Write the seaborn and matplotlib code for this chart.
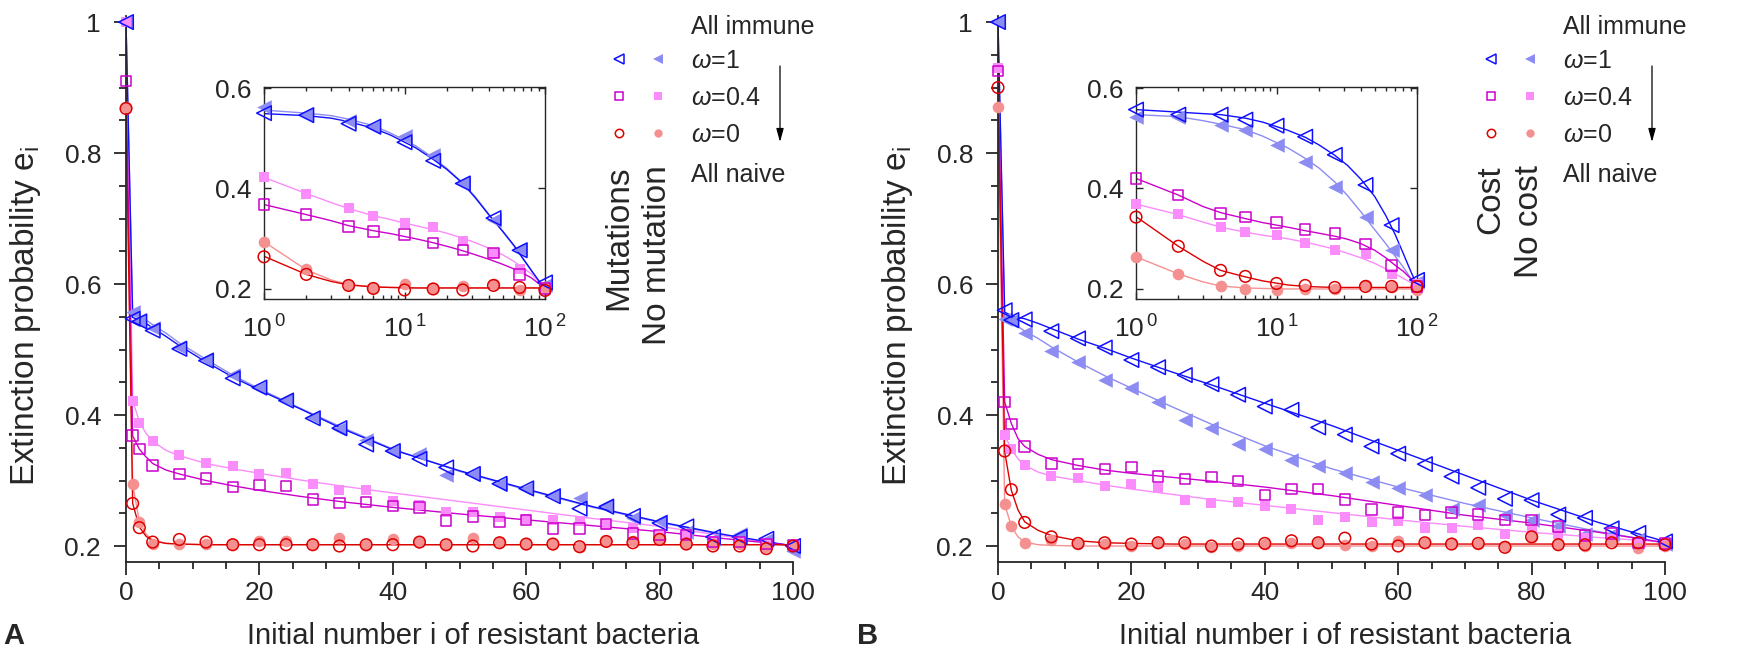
import matplotlib
matplotlib.use("Agg")
import matplotlib.pyplot as plt
import seaborn as sns
from matplotlib.lines import Line2D
from matplotlib.legend_handler import HandlerTuple
from matplotlib.ticker import MultipleLocator, LogLocator, NullFormatter

# ---- data ----
# simulation points, main panels (linear x)
x_main = [0, 1, 2, 4, 8, 12, 16, 20, 24, 28, 32, 36, 40, 44, 48, 52, 56, 60,
          64, 68, 72, 76, 80, 84, 88, 92, 96, 100]

a_open_w1 = [1.0, 0.547, 0.543, 0.529, 0.501, 0.483, 0.456, 0.442, 0.422, 0.395, 0.380, 0.355, 0.345, 0.333,
             0.320, 0.310, 0.295, 0.288, 0.276, 0.257, 0.260, 0.246, 0.235, 0.230, 0.214, 0.214, 0.211, 0.200]
a_fill_w1 = [1.0, 0.557, 0.544, 0.533, 0.504, 0.485, 0.461, 0.442, 0.424, 0.397, 0.378, 0.362, 0.345, 0.340,
             0.308, 0.310, 0.295, 0.287, 0.278, 0.273, 0.262, 0.243, 0.238, 0.222, 0.211, 0.219, 0.209, 0.193]
a_open_w04 = [0.91, 0.369, 0.348, 0.323, 0.310, 0.303, 0.290, 0.293, 0.292, 0.271, 0.266, 0.267, 0.261, 0.259,
              0.239, 0.245, 0.237, 0.240, 0.227, 0.227, 0.234, 0.219, 0.217, 0.217, 0.206, 0.206, 0.203, 0.202]
a_fill_w04 = [1.0, 0.422, 0.388, 0.360, 0.339, 0.327, 0.322, 0.310, 0.311, 0.294, 0.285, 0.285, 0.269, 0.262,
              0.252, 0.252, 0.245, 0.241, 0.239, 0.238, 0.232, 0.227, 0.216, 0.219, 0.208, 0.206, 0.203, 0.201]
a_open_w0 = [0.868, 0.265, 0.228, 0.206, 0.210, 0.206, 0.202, 0.202, 0.202, 0.202, 0.200, 0.202, 0.202, 0.206,
             0.202, 0.200, 0.205, 0.203, 0.203, 0.199, 0.207, 0.205, 0.210, 0.203, 0.200, 0.200, 0.196, 0.200]
a_fill_w0 = [0.87, 0.294, 0.237, 0.203, 0.203, 0.203, 0.203, 0.207, 0.208, 0.203, 0.212, 0.201, 0.210, 0.206,
             0.202, 0.212, 0.206, 0.203, 0.203, 0.198, 0.207, 0.208, 0.210, 0.205, 0.203, 0.203, 0.198, 0.202]

b_open_w1 = [1.0, 0.560, 0.545, 0.546, 0.528, 0.517, 0.503, 0.484, 0.473, 0.461, 0.447, 0.431, 0.413, 0.408,
             0.381, 0.370, 0.352, 0.341, 0.325, 0.306, 0.289, 0.272, 0.270, 0.248, 0.243, 0.227, 0.220, 0.207]
b_fill_w1 = [1.0, 0.547, 0.544, 0.525, 0.498, 0.481, 0.454, 0.442, 0.420, 0.393, 0.380, 0.356, 0.348, 0.332,
             0.322, 0.311, 0.297, 0.289, 0.278, 0.257, 0.262, 0.248, 0.240, 0.230, 0.219, 0.219, 0.211, 0.203]
b_open_w04 = [0.925, 0.420, 0.386, 0.352, 0.326, 0.325, 0.318, 0.321, 0.306, 0.302, 0.305, 0.299, 0.278, 0.287,
              0.287, 0.271, 0.256, 0.251, 0.247, 0.251, 0.248, 0.240, 0.240, 0.230, 0.216, 0.219, 0.205, 0.204]
b_fill_w04 = [0.93, 0.369, 0.348, 0.323, 0.307, 0.304, 0.291, 0.294, 0.289, 0.271, 0.266, 0.267, 0.261, 0.257,
              0.239, 0.245, 0.236, 0.238, 0.227, 0.227, 0.232, 0.219, 0.224, 0.219, 0.213, 0.211, 0.203, 0.203]
b_open_w0 = [0.90, 0.345, 0.286, 0.236, 0.214, 0.204, 0.205, 0.203, 0.205, 0.205, 0.200, 0.203, 0.204, 0.208,
             0.205, 0.212, 0.203, 0.200, 0.205, 0.203, 0.204, 0.198, 0.214, 0.202, 0.202, 0.205, 0.205, 0.202]
b_fill_w0 = [0.87, 0.264, 0.231, 0.205, 0.209, 0.203, 0.203, 0.200, 0.204, 0.203, 0.199, 0.200, 0.203, 0.205,
             0.205, 0.202, 0.200, 0.208, 0.204, 0.205, 0.203, 0.200, 0.214, 0.203, 0.200, 0.208, 0.197, 0.200]

# simulation points, insets (log x)
x_inset = [1, 2, 4, 6, 10, 16, 26, 43, 66, 100]

ai_open_w1 = [0.550, 0.546, 0.529, 0.523, 0.492, 0.455, 0.410, 0.341, 0.277, 0.213]
ai_fill_w1 = [0.562, 0.546, 0.534, 0.523, 0.504, 0.467, 0.410, 0.338, 0.280, 0.207]
ai_open_w04 = [0.368, 0.348, 0.324, 0.314, 0.308, 0.291, 0.277, 0.271, 0.229, 0.201]
ai_fill_w04 = [0.422, 0.390, 0.361, 0.345, 0.332, 0.323, 0.295, 0.271, 0.239, 0.200]
ai_open_w0 = [0.264, 0.229, 0.207, 0.201, 0.198, 0.200, 0.198, 0.207, 0.203, 0.197]
ai_fill_w0 = [0.294, 0.239, 0.208, 0.201, 0.210, 0.201, 0.205, 0.210, 0.197, 0.203]

bi_open_w1 = [0.557, 0.547, 0.547, 0.537, 0.525, 0.503, 0.467, 0.407, 0.327, 0.218]
bi_fill_w1 = [0.543, 0.542, 0.527, 0.517, 0.487, 0.453, 0.403, 0.343, 0.278, 0.213]
bi_open_w04 = [0.420, 0.387, 0.350, 0.343, 0.332, 0.318, 0.310, 0.290, 0.247, 0.205]
bi_fill_w04 = [0.369, 0.349, 0.323, 0.313, 0.307, 0.291, 0.278, 0.270, 0.230, 0.210]
bi_open_w0 = [0.343, 0.285, 0.237, 0.225, 0.211, 0.207, 0.203, 0.205, 0.205, 0.205]
bi_fill_w0 = [0.263, 0.230, 0.205, 0.200, 0.197, 0.200, 0.200, 0.207, 0.203, 0.197]

# theory curves
x_theory = [0, 1, 2, 3, 4, 6, 8, 12, 16, 20, 26, 32, 40, 50, 60, 70, 80, 90, 100]

ta_open_w1 = [1.0, 0.549, 0.545, 0.540, 0.533, 0.520, 0.506, 0.481, 0.458, 0.438, 0.410, 0.381, 0.347,
              0.315, 0.287, 0.260, 0.237, 0.217, 0.200]
ta_fill_w1 = [1.0, 0.556, 0.550, 0.545, 0.538, 0.525, 0.510, 0.485, 0.461, 0.440, 0.411, 0.383, 0.348,
              0.314, 0.286, 0.259, 0.236, 0.216, 0.199]
ta_open_w04 = [0.91, 0.368, 0.348, 0.336, 0.326, 0.316, 0.310, 0.300, 0.292, 0.285, 0.276, 0.268, 0.259,
               0.249, 0.240, 0.231, 0.222, 0.211, 0.201]
ta_fill_w04 = [1.0, 0.422, 0.390, 0.372, 0.360, 0.346, 0.338, 0.326, 0.318, 0.311, 0.301, 0.292, 0.281,
               0.268, 0.255, 0.242, 0.230, 0.215, 0.200]
ta_open_w0 = [0.868, 0.265, 0.229, 0.215, 0.208, 0.204, 0.203, 0.202, 0.202, 0.202, 0.202, 0.202, 0.202,
              0.202, 0.202, 0.202, 0.202, 0.202, 0.202]
ta_fill_w0 = [0.87, 0.294, 0.238, 0.218, 0.209, 0.204, 0.203, 0.202, 0.202, 0.202, 0.202, 0.202, 0.202,
              0.202, 0.202, 0.202, 0.202, 0.202, 0.202]

tb_open_w1 = [1.0, 0.557, 0.552, 0.549, 0.547, 0.540, 0.532, 0.516, 0.502, 0.487, 0.466, 0.446, 0.418,
              0.384, 0.346, 0.308, 0.270, 0.236, 0.207]
tb_fill_w1 = [1.0, 0.547, 0.543, 0.535, 0.528, 0.517, 0.504, 0.481, 0.460, 0.441, 0.413, 0.386, 0.353,
              0.318, 0.290, 0.265, 0.243, 0.222, 0.205]
tb_open_w04 = [0.925, 0.420, 0.387, 0.364, 0.352, 0.340, 0.332, 0.323, 0.316, 0.311, 0.305, 0.299, 0.290,
               0.277, 0.262, 0.247, 0.235, 0.221, 0.205]
tb_fill_w04 = [0.93, 0.369, 0.348, 0.333, 0.323, 0.313, 0.307, 0.300, 0.293, 0.287, 0.279, 0.271, 0.262,
               0.251, 0.240, 0.230, 0.221, 0.213, 0.206]
tb_open_w0 = [0.90, 0.344, 0.285, 0.255, 0.237, 0.224, 0.216, 0.208, 0.205, 0.204, 0.203, 0.203, 0.203,
              0.203, 0.203, 0.203, 0.203, 0.203, 0.203]
tb_fill_w0 = [0.87, 0.264, 0.230, 0.214, 0.206, 0.202, 0.201, 0.200, 0.200, 0.200, 0.200, 0.200, 0.200,
              0.200, 0.200, 0.200, 0.200, 0.200, 0.200]

# tick labels / text
main_xticks = [0, 20, 40, 60, 80, 100]
main_yticks = [0.2, 0.4, 0.6, 0.8, 1.0]
main_ytick_labels = ["0.2", "0.4", "0.6", "0.8", "1"]
inset_xticks = [1, 10, 100]
inset_xtick_labels = ["$10^{\\,0}$", "$10^{\\,1}$", "$10^{\\,2}$"]
inset_yticks = [0.2, 0.4, 0.6]
inset_ytick_labels = ["0.2", "0.4", "0.6"]
omega_labels = ["$\\omega$=1", "$\\omega$=0.4", "$\\omega$=0"]

# ---- style ----
BLUE, LBLUE = "#0f0fff", "#8c8cf2"
MAG, LPINK = "#cc00cc", "#fb8cfb"
RED, SALMON = "#dd0000", "#f59090"

W, H = 1748, 657
FS_TICK = 19
FS_LABEL = 21
FS_LEG = 18
FS_ROT = 24

sns.set_style("ticks")
plt.rcParams["font.family"] = ["Liberation Sans", "DejaVu Sans"]
plt.rcParams["mathtext.fontset"] = "custom"
plt.rcParams["mathtext.rm"] = "Liberation Sans"
plt.rcParams["mathtext.it"] = "Liberation Sans:italic"


def box(left, top, width, height):
    # pixel box -> figure fraction rect
    return [left / W, 1 - (top + height) / H, width / W, height / H]


def draw_series(ax, xs, ys, xt, yt, marker, color, s, filled):
    sns.lineplot(x=xt, y=yt, ax=ax, color=color, lw=1.0, estimator=None, sort=False, zorder=2)
    if filled:
        sns.scatterplot(x=xs, y=ys, ax=ax, marker=marker, s=s, color=color, edgecolor=color,
                        linewidth=0, clip_on=False, zorder=3)
    else:
        sns.scatterplot(x=xs, y=ys, ax=ax, marker=marker, s=s, color=color, facecolor="none",
                        edgecolor=color, linewidth=1.1, clip_on=False, zorder=4)


def panel(off, main, inset, theory, letter, letter_x, col_texts):
    ax = fig.add_axes(box(126 + off, 15.5, 667, 546.5))
    axin = fig.add_axes(box(264 + off, 87, 281, 212))

    # filled ("no" condition) first, open on top
    specs = [
        (1, "<", LBLUE, 110, True), (3, "s", LPINK, 56, True), (5, "o", SALMON, 70, True),
        (0, "<", BLUE, 110, False), (2, "s", MAG, 56, False), (4, "o", RED, 70, False),
    ]
    for idx, m, c, s, filled in specs:
        draw_series(ax, x_main, main[idx], x_theory, theory[idx], m, c, s, filled)
        draw_series(axin, x_inset, inset[idx], x_theory[1:], theory[idx][1:], m, c, s, filled)

    # main axes
    ax.set_xlim(0, 100)
    ax.set_ylim(0.1756, 1.01)
    sns.despine(ax=ax)
    for sp in ["left", "bottom"]:
        ax.spines[sp].set_linewidth(1.3)
    ax.set_xticks(main_xticks)
    ax.xaxis.set_minor_locator(MultipleLocator(5))
    ax.set_yticks(main_yticks, labels=main_ytick_labels)
    ax.yaxis.set_minor_locator(MultipleLocator(0.05))
    ax.tick_params(which="major", length=9, width=1.3, labelsize=FS_TICK, direction="out")
    ax.tick_params(which="minor", length=5, width=1.3, direction="out")
    ax.tick_params(axis="x", which="major", pad=5)
    ax.tick_params(axis="y", which="major", pad=9)
    ax.set_xlabel("Initial number i of resistant bacteria", fontsize=FS_LABEL)
    ax.set_ylabel("Extinction probability e$_\\mathregular{i}$", fontsize=FS_ROT)
    ax.xaxis.set_label_coords(0.52, -0.11)
    ax.yaxis.set_label_coords(-0.125, 0.45)

    # inset
    axin.set_xscale("log")
    axin.set_xlim(1, 100)
    axin.set_ylim(0.18, 0.602)
    axin.set_xticks(inset_xticks, labels=inset_xtick_labels)
    axin.set_yticks(inset_yticks, labels=inset_ytick_labels)
    axin.xaxis.set_minor_locator(LogLocator(base=10, subs=range(2, 10), numticks=20))
    axin.xaxis.set_minor_formatter(NullFormatter())
    for sp in axin.spines.values():
        sp.set_linewidth(1.0)
        sp.set_visible(True)
    axin.tick_params(which="both", direction="in", top=True, right=True, width=1.0, labelsize=FS_TICK)
    axin.tick_params(which="major", length=5)
    axin.tick_params(which="minor", length=3)
    axin.tick_params(axis="x", pad=12)
    axin.tick_params(axis="y", pad=9)
    axin.patch.set_alpha(0)

    # legend: two marker columns + omega labels
    handles = []
    for (m, c_open, c_fill) in [("<", BLUE, LBLUE), ("s", MAG, LPINK), ("o", RED, SALMON)]:
        ms = 7.5 if m == "<" else 6
        h_open = Line2D([], [], ls="", marker=m, mfc="none", mec=c_open, mew=1.1, ms=ms)
        h_fill = Line2D([], [], ls="", marker=m, mfc=c_fill, mec=c_fill, mew=0, ms=ms)
        handles.append((h_open, h_fill))
    ax.legend(handles, omega_labels, handler_map={tuple: HandlerTuple(ndivide=None, pad=1.0)},
              loc="upper left", bbox_to_anchor=((612 + off) / W, 1 - 49 / H),
              bbox_transform=fig.transFigure, frameon=False, borderpad=0, borderaxespad=0,
              handlelength=2.12, handletextpad=1.04, labelspacing=0.52, fontsize=FS_LEG)

    fig.text((691 + off) / W, 1 - 27 / H, "All immune", fontsize=FS_LEG, va="center", ha="left")
    fig.text((691 + off) / W, 1 - 175 / H, "All naive", fontsize=FS_LEG, va="center", ha="left")
    fig.text((619 + off) / W, 1 - 165 / H, col_texts[0], fontsize=FS_ROT, rotation=90, ha="center", va="top")
    fig.text((658 + off) / W, 1 - 165 / H, col_texts[1], fontsize=FS_ROT, rotation=90, ha="center", va="top")
    fig.text(letter_x / W, 1 - 636 / H, letter, fontsize=FS_LABEL, fontweight="bold", va="center", ha="left")
    ax.annotate("", xy=((780 + off) / W, 1 - 142 / H), xytext=((780 + off) / W, 1 - 66 / H),
                xycoords="figure fraction", textcoords="figure fraction",
                arrowprops=dict(arrowstyle="-|>,head_length=0.8,head_width=0.22", color="black", lw=0.9,
                                shrinkA=0, shrinkB=0))


fig = plt.figure(figsize=(W / 100, H / 100), dpi=100)

panel(0,
      [a_open_w1, a_fill_w1, a_open_w04, a_fill_w04, a_open_w0, a_fill_w0],
      [ai_open_w1, ai_fill_w1, ai_open_w04, ai_fill_w04, ai_open_w0, ai_fill_w0],
      [ta_open_w1, ta_fill_w1, ta_open_w04, ta_fill_w04, ta_open_w0, ta_fill_w0],
      "A", 3, ["Mutations", "No mutation"])
panel(872,
      [b_open_w1, b_fill_w1, b_open_w04, b_fill_w04, b_open_w0, b_fill_w0],
      [bi_open_w1, bi_fill_w1, bi_open_w04, bi_fill_w04, bi_open_w0, bi_fill_w0],
      [tb_open_w1, tb_fill_w1, tb_open_w04, tb_fill_w04, tb_open_w0, tb_fill_w0],
      "B", 857, ["Cost", "No cost"])

fig.savefig("out.png", dpi=100)
